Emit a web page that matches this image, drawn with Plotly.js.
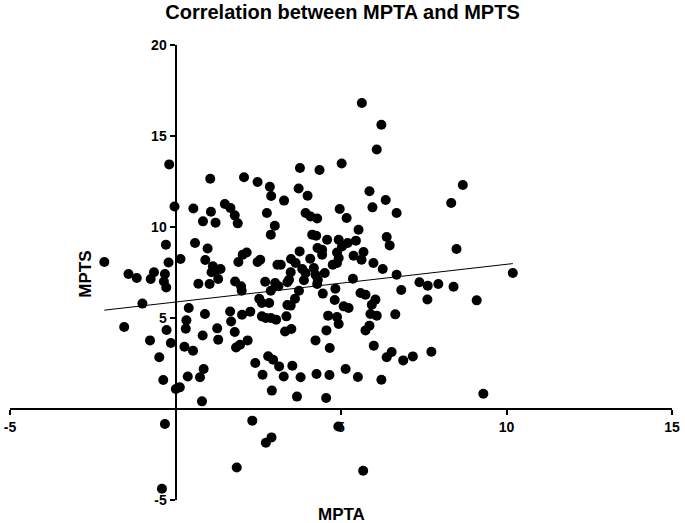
<!DOCTYPE html>
<html>
<head>
<meta charset="utf-8">
<script src="https://cdn.plot.ly/plotly-3.0.1.min.js"></script>
<style>html,body{margin:0;padding:0;background:#fff;}#chart{width:685px;height:523px;}</style>
</head>
<body>
<div id="chart"></div>
<script>
// MPTA (x) values
const mpta = [
-0.19,1.05,2.07,2.48,2.85,2.89,-0.03,0.54,1.49,1.66,1.79,1.88,1.07,0.83,1.21,2.76,3.00,3.28,3.76,3.72,3.99,3.93,
5.63,6.22,6.08,5.02,4.35,8.68,8.33,5.86,6.35,5.95,4.96,5.17,6.68,4.08,4.28,5.53,
2.88,-0.29,0.59,0.97,2.03,2.15,1.90,2.48,2.56,-2.15,-0.21,0.15,0.90,1.13,1.23,1.36,1.09,-1.42,-1.17,-0.65,-0.75,-0.32,
-0.35,-0.28,0.69,1.03,1.29,1.80,1.98,2.00,2.71,2.88,2.53,2.83,2.61,-1.00,0.40,1.65,2.26,2.01,0.89,2.61,2.73,2.88,3.04,
1.68,0.33,-1.55,0.31,-0.27,1.26,1.79,0.82,-0.77,-0.14,1.29,1.83,1.95,2.18,0.27,0.53,-0.49,2.80,2.95,2.41,3.13,0.85,
0.74,0.37,-0.37,2.63,0.01,0.13,2.91,0.80,
4.13,4.25,6.38,6.47,4.58,4.93,5.20,5.45,5.03,4.29,4.43,3.75,4.88,5.68,8.49,4.43,5.38,5.62,3.49,4.07,4.93,3.08,3.18,
3.63,4.75,4.88,5.98,6.26,3.83,4.18,3.48,4.51,3.93,3.43,4.23,4.30,6.68,5.36,3.88,3.38,3.01,3.11,4.28,7.37,7.62,7.94,
8.40,4.83,6.82,3.73,4.45,5.59,5.74,3.61,4.81,6.04,7.61,9.10,3.38,3.48,5.08,5.23,5.93,3.35,4.61,4.88,5.89,6.08,6.64,
4.93,3.31,3.50,4.56,5.74,5.86,4.23,4.66,5.99,6.38,6.53,6.88,7.17,7.73,3.27,3.53,3.78,4.26,4.65,5.14,5.51,6.22,3.67,
4.55,9.30,10.19,
-0.32,2.32,2.90,2.73,1.85,5.67,-0.41,4.92
];
// MPTS (y) values
const mpts = [
13.44,12.65,12.73,12.47,12.21,11.70,11.13,11.02,11.26,11.04,10.64,10.20,10.84,10.31,10.24,10.77,10.07,11.45,13.24,12.12,11.72,10.77,
16.81,15.62,14.26,13.49,13.13,12.31,11.32,11.96,11.48,11.08,10.99,10.49,10.77,10.58,10.47,9.85,
9.58,9.03,9.12,8.82,8.48,8.60,8.08,8.08,8.20,8.08,8.05,8.24,8.19,7.84,7.65,7.69,7.51,7.42,7.20,7.51,7.14,7.42,
7.01,6.68,6.88,6.87,7.14,7.01,6.74,6.50,6.99,6.50,6.06,5.82,5.82,5.79,5.55,5.36,5.35,5.18,5.22,5.09,5.00,5.00,4.91,
4.81,4.87,4.51,4.41,4.34,4.43,4.23,4.04,3.77,3.63,3.81,3.38,3.53,3.77,3.42,3.20,2.84,2.90,2.71,2.53,2.34,2.20,
1.74,1.79,1.59,1.88,1.10,1.19,1.01,0.42,
9.58,9.52,9.45,8.99,9.30,9.30,9.12,9.25,8.93,8.85,8.75,8.66,8.60,8.63,8.79,8.48,8.42,8.20,8.24,8.26,8.30,7.93,7.93,
8.02,7.93,8.02,8.02,7.69,7.69,7.75,7.51,7.47,7.47,7.10,7.38,7.10,7.38,7.16,7.07,6.96,6.92,6.74,6.87,6.96,6.77,6.87,
6.72,6.61,6.54,6.50,6.34,6.37,6.28,6.06,5.99,6.01,6.02,5.97,5.71,5.68,5.64,5.55,5.73,5.09,5.13,5.05,5.22,5.13,5.20,
4.67,4.26,4.40,4.32,4.32,4.58,3.77,3.35,3.48,2.84,3.13,2.67,2.89,3.15,1.79,2.38,1.74,1.92,1.87,2.20,1.76,1.61,0.68,
0.60,0.84,7.47,
-0.82,-0.64,-1.56,-1.85,-3.21,-3.39,-4.38,-0.96
];
// Linear fit line endpoints
const fitX = [-2.15, 10.19];
const fitY = [5.43, 7.99];
// Tick labels
const xTicks = [-5, 5, 10, 15];
const yTicks = [-5, 5, 10, 15, 20];

const FONT = 'Arial, "Liberation Sans", Helvetica, sans-serif';

const traces = [
  {x: mpta, y: mpts, type: 'scatter', mode: 'markers',
   marker: {color: '#000', size: 10, line: {width: 0}}, hoverinfo: 'x+y', cliponaxis: false},
  {x: fitX, y: fitY, type: 'scatter', mode: 'lines',
   line: {color: '#000', width: 1}, hoverinfo: 'skip'}
];

const layout = {
  width: 685, height: 523,
  margin: {l: 10, r: 13, t: 45, b: 23, pad: 0},
  paper_bgcolor: '#fff', plot_bgcolor: '#fff',
  showlegend: false,
  font: {family: FONT, color: '#000'},
  title: {text: 'Correlation between MPTA and MPTS', font: {family: FONT, size: 20, weight: 700, color: '#000'},
          x: 0.5, xanchor: 'center', xref: 'container', y: 0.977, yanchor: 'middle', yref: 'container'},
  xaxis: {range: [-5, 15], anchor: 'free', position: 0.2, showgrid: false, zeroline: false,
          showline: true, linecolor: '#000', linewidth: 2,
          ticks: 'outside', ticklen: 5, tickwidth: 2, tickcolor: '#000',
          tickmode: 'array', tickvals: xTicks, ticktext: xTicks.map(String),
          tickfont: {family: FONT, size: 14, weight: 700, color: '#000'}},
  yaxis: {range: [-5, 20], anchor: 'free', position: 0.25, showgrid: false, zeroline: false,
          showline: true, linecolor: '#000', linewidth: 2,
          ticks: 'outside', ticklen: 5, tickwidth: 2, tickcolor: '#000',
          tickmode: 'array', tickvals: yTicks, ticktext: yTicks.map(String),
          tickfont: {family: FONT, size: 14, weight: 700, color: '#000'}},
  annotations: [
    {text: 'MPTA', xref: 'paper', yref: 'paper', x: 0.5, y: -0.032, xanchor: 'center', yanchor: 'middle',
     showarrow: false, font: {family: FONT, size: 17, weight: 700, color: '#000'}},
    {text: 'MPTS', xref: 'paper', yref: 'paper', x: 0.1145, y: 0.497, xanchor: 'center', yanchor: 'middle',
     textangle: -90, showarrow: false, font: {family: FONT, size: 17, weight: 700, color: '#000'}}
  ]
};

Plotly.newPlot('chart', traces, layout, {displayModeBar: false, staticPlot: true});
</script>
</body>
</html>
